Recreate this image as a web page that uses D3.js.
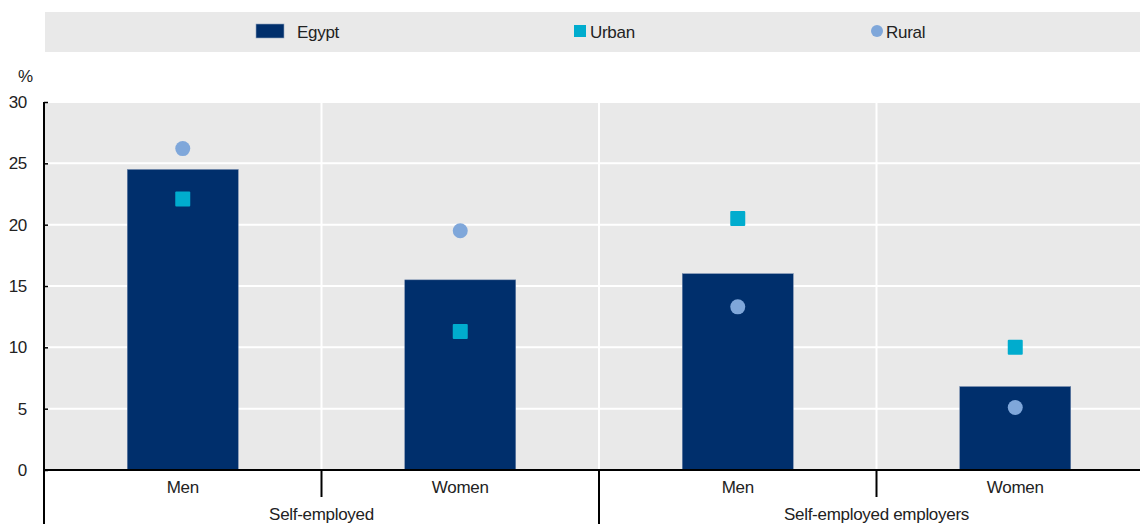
<!DOCTYPE html>
<html>
<head>
<meta charset="utf-8">
<script src="https://cdn.jsdelivr.net/npm/d3@7/dist/d3.min.js"></script>
<style>
  html, body { margin: 0; padding: 0; background: #fff; }
  svg text { font-family: "Liberation Sans", Arial, sans-serif; font-size: 17px; letter-spacing: -0.3px; fill: #222; }
</style>
</head>
<body>
<svg id="chart" width="1140" height="524"></svg>
<script>
// Share of workers (%) by employment status and sex
const groups = ["Self-employed", "Self-employed employers"];
const categories = ["Self-employed|Men", "Self-employed|Women", "Self-employed employers|Men", "Self-employed employers|Women"];
const categoryLabels = ["Men", "Women", "Men", "Women"];
const egypt = [24.5, 15.5, 16.0, 6.8];
const urban = [22.1, 11.3, 20.5, 10.0];
const rural = [26.2, 19.5, 13.3, 5.1];
const yTicks = [0, 5, 10, 15, 20, 25, 30];
const seriesNames = ["Egypt", "Urban", "Rural"];

const colors = { egypt: "#002f6c", urban: "#00acce", rural: "#7fa7da" };

const svg = d3.select("#chart");
const plot = { left: 44, right: 1154, top: 102, bottom: 470 };

const x = d3.scaleBand().domain(categories).range([plot.left, plot.right]).paddingInner(0).paddingOuter(0);
const y = d3.scaleLinear().domain([0, 30]).range([plot.bottom, plot.top]);

// legend strip
svg.append("rect").attr("x", 45).attr("y", 12).attr("width", 1100).attr("height", 40).attr("fill", "#e9e9e9");
const lg = svg.append("g");
lg.append("rect").attr("x", 256).attr("y", 24).attr("width", 28).attr("height", 14)
  .attr("fill", colors.egypt).attr("stroke", "#8fa3c0").attr("stroke-width", 0.6);
lg.append("text").attr("x", 297).attr("y", 37.5).text(seriesNames[0]);
lg.append("rect").attr("x", 574).attr("y", 25).attr("width", 12).attr("height", 12).attr("fill", colors.urban);
lg.append("text").attr("x", 590).attr("y", 37.5).text(seriesNames[1]);
lg.append("circle").attr("cx", 877).attr("cy", 31).attr("r", 6).attr("fill", colors.rural);
lg.append("text").attr("x", 886).attr("y", 37.5).text(seriesNames[2]);

// plot background
svg.append("rect").attr("x", plot.left).attr("y", plot.top)
  .attr("width", plot.right - plot.left).attr("height", plot.bottom - plot.top).attr("fill", "#e9e9e9");

// horizontal gridlines
svg.append("g").selectAll("line").data(yTicks.filter(d => d > 0)).join("line")
  .attr("x1", plot.left).attr("x2", plot.right)
  .attr("y1", d => y(d)).attr("y2", d => y(d))
  .attr("stroke", "#fff").attr("stroke-width", 2);

// vertical gridlines between categories
const bounds = categories.slice(1).map(c => x(c));
svg.append("g").selectAll("line").data(bounds).join("line")
  .attr("x1", d => d).attr("x2", d => d)
  .attr("y1", plot.top).attr("y2", plot.bottom)
  .attr("stroke", "#fff").attr("stroke-width", 2);

// bars
const barW = x.bandwidth() * 0.4;
svg.append("g").selectAll("rect").data(categories).join("rect")
  .attr("x", c => x(c) + (x.bandwidth() - barW) / 2)
  .attr("width", barW)
  .attr("y", (c, i) => y(egypt[i]))
  .attr("height", (c, i) => y(0) - y(egypt[i]))
  .attr("fill", colors.egypt)
  .attr("stroke", "#6f86aa").attr("stroke-width", 0.5);

// urban squares
const sq = 15;
svg.append("g").selectAll("rect").data(categories).join("rect")
  .attr("x", c => x(c) + x.bandwidth() / 2 - sq / 2)
  .attr("y", (c, i) => y(urban[i]) - sq / 2)
  .attr("width", sq).attr("height", sq).attr("rx", 1)
  .attr("fill", colors.urban);

// rural circles
svg.append("g").selectAll("circle").data(categories).join("circle")
  .attr("cx", c => x(c) + x.bandwidth() / 2)
  .attr("cy", (c, i) => y(rural[i]))
  .attr("r", 7.5)
  .attr("fill", colors.rural);

// y axis
const yAxis = d3.axisLeft(y).tickValues(yTicks).tickSize(-4).tickPadding(17);
const ya = svg.append("g").attr("transform", `translate(${plot.left},0)`).call(yAxis);
ya.select(".domain").remove();
ya.selectAll(".tick line").attr("stroke", "#000").attr("stroke-width", 1.5);
ya.selectAll("text").style("font-size", "17px").attr("fill", "#222");
svg.append("line").attr("x1", plot.left).attr("x2", plot.left)
  .attr("y1", plot.top).attr("y2", 524).attr("stroke", "#000").attr("stroke-width", 2);
svg.append("text").attr("x", 18).attr("y", 82).text("%");

// x axis baseline
svg.append("line").attr("x1", plot.left).attr("x2", plot.right)
  .attr("y1", plot.bottom).attr("y2", plot.bottom).attr("stroke", "#000").attr("stroke-width", 2);

// category ticks and labels
svg.append("g").selectAll("line").data(categories).join("line")
  .attr("x1", c => x(c)).attr("x2", c => x(c))
  .attr("y1", plot.bottom)
  .attr("y2", (c, i) => i % 2 === 0 ? 524 : 497)
  .attr("stroke", "#000").attr("stroke-width", 2);
svg.append("g").selectAll("text").data(categories).join("text")
  .attr("x", c => x(c) + x.bandwidth() / 2)
  .attr("y", 493)
  .attr("text-anchor", "middle")
  .text((c, i) => categoryLabels[i]);

// group labels
svg.append("g").selectAll("text").data(groups).join("text")
  .attr("x", (g, i) => x(categories[i * 2]) + x.bandwidth())
  .attr("y", 520)
  .attr("text-anchor", "middle")
  .text(g => g);
</script>
</body>
</html>
